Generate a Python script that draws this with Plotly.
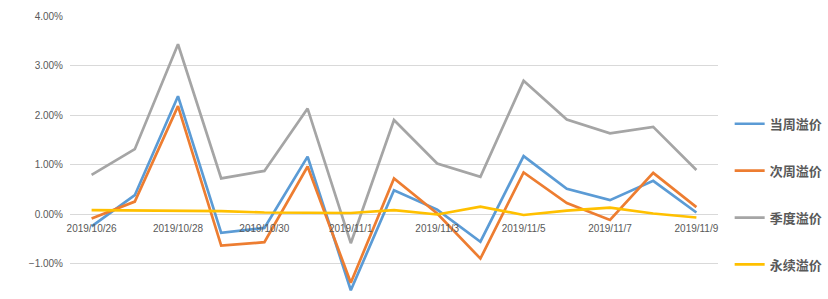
import plotly.graph_objects as go

dates = ["2019/10/26", "2019/10/27", "2019/10/28", "2019/10/29", "2019/10/30",
         "2019/10/31", "2019/11/1", "2019/11/2", "2019/11/3", "2019/11/4",
         "2019/11/5", "2019/11/6", "2019/11/7", "2019/11/8", "2019/11/9"]
tick_labels = ["2019/10/26", "2019/10/28", "2019/10/30", "2019/11/1",
               "2019/11/3", "2019/11/5", "2019/11/7", "2019/11/9"]

current_week = [-0.0025, 0.0038, 0.0238, -0.0038, -0.0028, 0.0116, -0.0154, 0.0048,
                0.0009, -0.0056, 0.0117, 0.0051, 0.0028, 0.0067, 0.0003]
next_week = [-0.0009, 0.0025, 0.0218, -0.0064, -0.0057, 0.0096, -0.0139, 0.0072,
             0.0001, -0.0090, 0.0084, 0.0022, -0.0012, 0.0083, 0.0014]
quarter = [0.0079, 0.0131, 0.0343, 0.0072, 0.0087, 0.0213, -0.0059, 0.0190,
           0.0102, 0.0075, 0.0269, 0.0191, 0.0163, 0.0176, 0.0089]
perpetual = [0.0008, 0.0007, 0.0006, 0.0006, 0.0003, 0.0002, 0.0002, 0.0008,
             -0.0001, 0.0015, -0.0002, 0.0007, 0.0013, 0.0001, -0.0007]

series = [("当周溢价", current_week, "#5B9BD5"),
          ("次周溢价", next_week, "#ED7D31"),
          ("季度溢价", quarter, "#A5A5A5"),
          ("永续溢价", perpetual, "#FFC000")]

fig = go.Figure()
for i, (name, vals, color) in enumerate(series):
    fig.add_trace(go.Scatter(x=dates, y=vals, mode="lines", name=name,
                             legendgroup=f"g{i}",
                             line=dict(color=color, width=2.7)))

ymin, ymax = -0.01717, 0.0400
zero_pos = (0 - ymin) / (ymax - ymin)

fig.update_layout(
    width=828, height=299,
    margin=dict(l=70, r=100, t=16, b=0),
    paper_bgcolor="white", plot_bgcolor="white",
    font=dict(family="Liberation Sans, Arial, sans-serif", size=10, color="#595959"),
    showlegend=True,
    legend=dict(x=1.018, xanchor="left", y=0.672, yanchor="top",
                tracegroupgap=27, itemwidth=30,
                font=dict(family="Noto Sans CJK SC", size=13, color="#595959", weight="bold"),
                bgcolor="rgba(0,0,0,0)"),
    xaxis=dict(type="category", range=[-0.5, 14.5], anchor="free", position=zero_pos,
               tickmode="array", tickvals=tick_labels, ticktext=tick_labels,
               showgrid=False, showline=False, ticks="", zeroline=False,
               ticklabelstandoff=7,
               tickfont=dict(size=10, color="#595959")),
    yaxis=dict(range=[ymin, ymax], tickformat=".2%", dtick=0.01, tick0=0,
               showgrid=True, gridcolor="#D9D9D9", gridwidth=1,
               zeroline=False, showline=False, ticks="", ticklabelstandoff=6,
               tickfont=dict(size=10, color="#595959")),
)

fig.write_html("out.html")
